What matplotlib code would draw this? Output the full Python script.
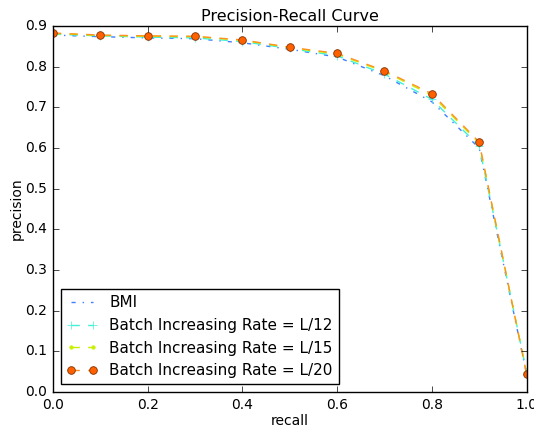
import matplotlib
matplotlib.use('Agg')
import matplotlib.pyplot as plt

plt.style.use('classic')
plt.rcParams['figure.facecolor'] = 'white'
plt.rcParams['savefig.facecolor'] = 'white'
plt.rcParams['font.family'] = 'DejaVu Sans'

recall = [0.0, 0.1, 0.2, 0.3, 0.4, 0.5, 0.6, 0.7, 0.8, 0.9, 1.0]
bmi = [0.878, 0.874, 0.871, 0.869, 0.859, 0.843, 0.824, 0.778, 0.714, 0.600, 0.045]
l12 = [0.880, 0.876, 0.873, 0.871, 0.862, 0.845, 0.827, 0.782, 0.720, 0.605, 0.050]
l15 = [0.882, 0.877, 0.875, 0.874, 0.865, 0.847, 0.831, 0.788, 0.730, 0.612, 0.048]
l20 = [0.883, 0.878, 0.876, 0.875, 0.866, 0.848, 0.833, 0.790, 0.734, 0.615, 0.045]

fig = plt.figure(figsize=(5.34, 4.28), dpi=100)
ax = fig.add_axes([0.099, 0.084, 0.887, 0.855])

ax.plot(recall, bmi, '-.', color='#3f7fff', label='BMI')
ax.plot(recall, l12, '--', color='#40f0d8', marker='+', markersize=6,
        markeredgecolor='#40f0d8', label='Batch Increasing Rate = L/12')
ax.plot(recall, l15, '--', color='#c8f000', marker='.', markersize=5,
        markeredgecolor='#c8f000', label='Batch Increasing Rate = L/15')
ax.plot(recall, l20, '--', color='#ff9020', marker='o', markersize=5.5,
        markerfacecolor='#ff6000', markeredgecolor='#803000', markeredgewidth=0.6,
        label='Batch Increasing Rate = L/20')

ax.set_xlim(0, 1.0)
ax.set_ylim(0, 0.9)
ax.set_xticks([0.0, 0.2, 0.4, 0.6, 0.8, 1.0])
ax.set_yticks([0.0, 0.1, 0.2, 0.3, 0.4, 0.5, 0.6, 0.7, 0.8, 0.9])
ax.tick_params(labelsize=10)
ax.set_xlabel('recall', fontsize=10, labelpad=2)
ax.set_ylabel('precision', fontsize=10, labelpad=1)
ax.set_title('Precision-Recall Curve', fontsize=11.5, pad=4)
ax.legend(loc='lower left', fontsize=11, numpoints=2, fancybox=False,
          handlelength=2.0, borderaxespad=0.5)

fig.savefig('out.png', dpi=100)
